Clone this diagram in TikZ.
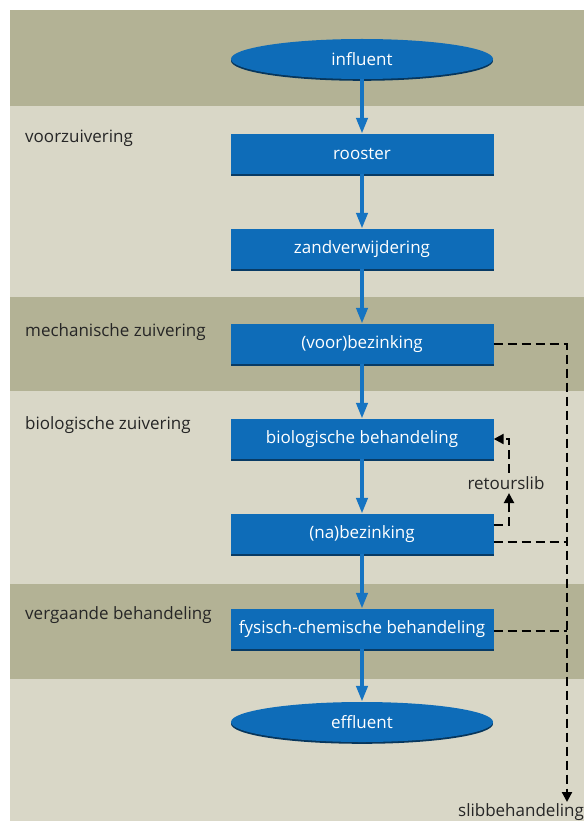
\documentclass[tikz,border=0pt]{standalone}
\usepackage{fontspec}
\setmainfont{Open Sans}
\usepackage{tikz}
\usetikzlibrary{arrows.meta, shapes.geometric, shadows, positioning}
\definecolor{bandDark}{HTML}{B3B295}
\definecolor{bandLight}{HTML}{D9D7C7}
\definecolor{stepBlue}{HTML}{0E6CB8}
\definecolor{flowBlue}{HTML}{1674C2}

\begin{document}
\begin{tikzpicture}[x=1pt, y=-1pt, line cap=butt,
		font=\fontsize{17}{20}\selectfont,
		stepbox/.style={fill=stepBlue, text=white, minimum width=263pt, minimum height=40pt, inner sep=0pt,
			general shadow={fill=stepBlue!55!black, shadow xshift=0.6pt, shadow yshift=-1.6pt}},
		endpoint/.style={ellipse, fill=stepBlue, text=white, minimum width=262pt, minimum height=40pt, inner sep=0pt,
			general shadow={fill=stepBlue!50!black, shadow yshift=-1.8pt}},
		stage/.style={anchor=west, inner sep=0pt, text=black!85},
		flow/.style={flowBlue, line width=4pt, -{Triangle[width=11pt, length=16pt]}},
		sludge/.style={black, line width=2.2pt, dash pattern=on 9pt off 5pt},
		sludgetip/.style={sludge, -{Triangle[width=10pt, length=10pt]}}
	]

	\useasboundingbox (0,0) rectangle (584,821);

	% bands
	\foreach \top/\bot/\col in {10/106/bandDark, 106/297/bandLight, 297/391/bandDark,
			391/584/bandLight, 584/679/bandDark, 679/821/bandLight}
		\fill[\col] (10,\top) rectangle (584,\bot);

	\node[stage] (voorz) at (25,138) {voorzuivering};
	\node[stage] (mechz) at (25,332) {mechanische zuivering};
	\node[stage] (bioz) at (25,425) {biologische zuivering};
	\node[stage] (vergz) at (25,615) {vergaande behandeling};

	\node[endpoint] (influent) at (362,59) {influent};
	\node[stepbox] (rooster) at (362,154) {rooster};
	\node[stepbox] (zand) at (362,249) {zandverwijdering};
	\node[stepbox] (voorbez) at (362,344) {(voor)bezinking};
	\node[stepbox] (bio) at (362,439) {biologische behandeling};
	\node[stepbox] (nabez) at (362,534) {(na)bezinking};
	\node[stepbox] (fysch) at (362,629) {fysisch-chemische behandeling};
	\node[endpoint] (effluent) at (362,722) {effluent};

	\draw[flow] (influent) -- (rooster);
	\draw[flow] (rooster) -- (zand);
	\draw[flow] (zand) -- (voorbez);
	\draw[flow] (voorbez) -- (bio);
	\draw[flow] (bio) -- (nabez);
	\draw[flow] (nabez) -- (fysch);
	\draw[flow] (fysch) -- (effluent);

	\node[text=black!85] (retour) at (506,483) {retourslib};
	\node[text=black!85, inner sep=0pt] (slib) at (521,812) {slibbehandeling};
	\coordinate (sliblijn) at (567,802);

	\draw[sludgetip] (voorbez.east) -| (sliblijn);
	\draw[sludge] ([yshift=-8pt]nabez.east) -- ([yshift=-8pt]nabez.east -| sliblijn);
	\draw[sludge] ([yshift=-2pt]fysch.east) -- ([yshift=-2pt]fysch.east -| sliblijn);

	\draw[sludgetip] ([yshift=9pt]nabez.east) -| ([xshift=3pt]retour.south);
	\draw[sludgetip] ([xshift=3pt]retour.north) |- (bio.east);

\end{tikzpicture}
\end{document}
